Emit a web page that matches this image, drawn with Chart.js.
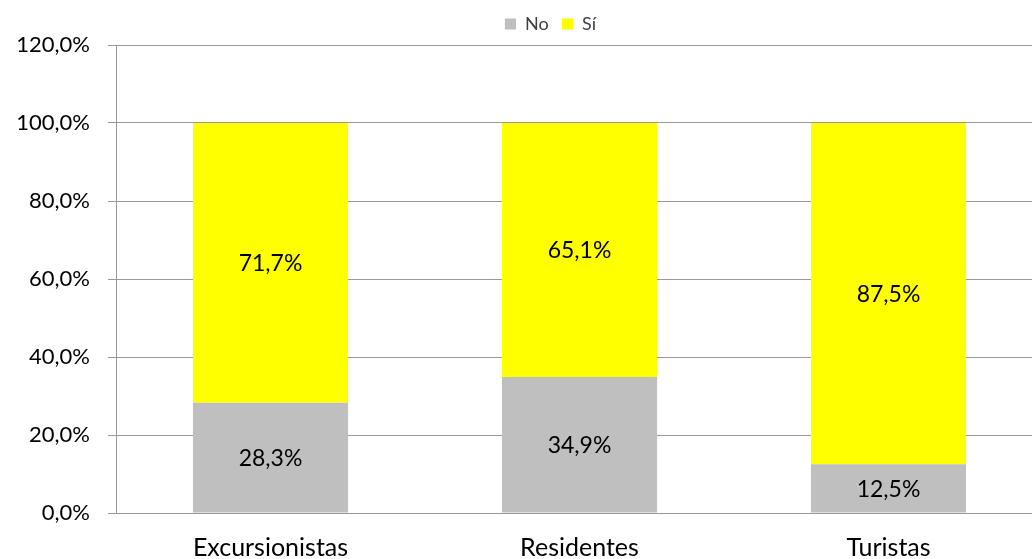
<!DOCTYPE html>
<html>
<head>
<meta charset="utf-8">
<script src="https://cdn.jsdelivr.net/npm/chart.js@4/dist/chart.umd.min.js"></script>
<style>
html,body{margin:0;padding:0;overflow:hidden;background:#fff;width:1032px;height:559px;}
#wrap{width:1043px;height:559px;}
</style>
</head>
<body>
<div id="wrap"><canvas id="c" width="1043" height="559"></canvas></div>
<script>
const categories = ['Excursionistas', 'Residentes', 'Turistas'];
const seriesNames = ['No', 'Sí'];
const noValues = [28.3, 34.9, 12.5];
const siValues = [71.7, 65.1, 87.5];
const yTicks = [0, 20, 40, 60, 80, 100, 120];

const fmt = v => v.toFixed(1).replace('.', ',') + '%';

const dataLabels = {
  id: 'dataLabels',
  afterDatasetsDraw(chart) {
    const ctx = chart.ctx;
    ctx.save();
    ctx.font = '23px Lato';
    ctx.fillStyle = '#000';
    ctx.textAlign = 'center';
    ctx.textBaseline = 'middle';
    chart.data.datasets.forEach((ds, i) => {
      chart.getDatasetMeta(i).data.forEach((el, j) => {
        ctx.fillText(fmt(ds.data[j]), el.x, (el.y + el.base) / 2 + 1);
      });
    });
    ctx.restore();
  }
};

const legendShift = {
  id: 'legendShift',
  afterLayout(chart) {
    chart.legend.left += 29;
    chart.legend.right += 29;
    chart.legend.top -= 2;
    chart.legend.bottom -= 2;
  }
};

new Chart(document.getElementById('c'), {
  type: 'bar',
  data: {
    labels: categories,
    datasets: [
      { label: seriesNames[0], data: noValues, backgroundColor: '#BFBFBF', borderWidth: 0 },
      { label: seriesNames[1], data: siValues, backgroundColor: '#FFFF00', borderWidth: 0 }
    ]
  },
  plugins: [dataLabels, legendShift],
  options: {
    responsive: false,
    animation: false,
    devicePixelRatio: 1,
    layout: { padding: { top: 3.5, left: 0, right: 0, bottom: 0 } },
    datasets: { bar: { categoryPercentage: 1, barPercentage: 0.502 } },
    plugins: {
      tooltip: { enabled: false },
      legend: {
        position: 'top',
        labels: {
          boxWidth: 11, boxHeight: 11, padding: 13.5,
          color: '#404040',
          font: { family: 'Lato', size: 18 }
        }
      }
    },
    scales: {
      x: {
        stacked: true,
        grid: { display: false, drawTicks: false },
        border: { display: true, color: '#999', width: 1 },
        ticks: { color: '#000', padding: 20, font: { family: 'Lato', size: 25 } },
        afterFit(s) { s.height = 46; }
      },
      y: {
        stacked: true,
        min: 0, max: 120,
        afterBuildTicks(s) { s.ticks = yTicks.map(v => ({ value: v })); },
        grid: { color: '#999', lineWidth: 1, tickLength: 8 },
        border: { display: true, color: '#999', width: 1 },
        ticks: { color: '#000', padding: 18, font: { family: 'Lato', size: 22 }, callback: v => fmt(v) },
        afterFit(s) { s.width = 116; }
      }
    }
  }
});
</script>
</body>
</html>
